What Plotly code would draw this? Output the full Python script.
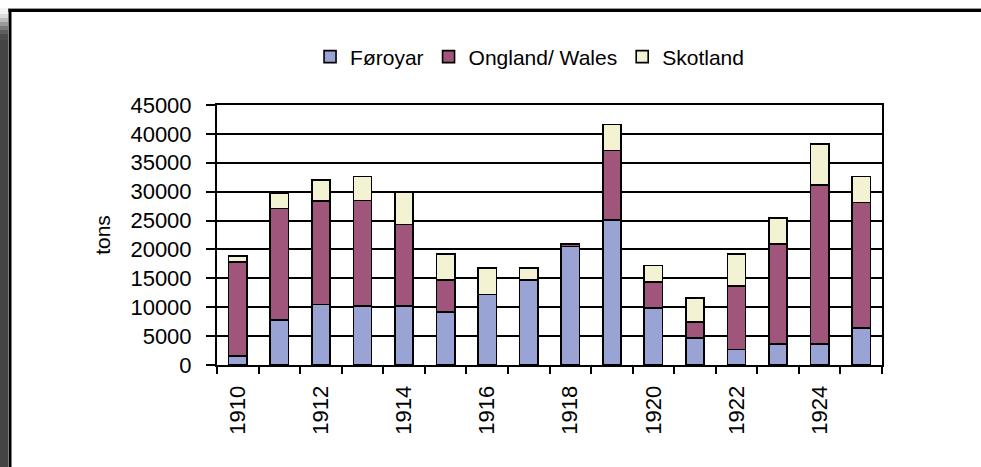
import plotly.graph_objects as go

years = list(range(1910, 1926))
foroyar = [1600, 7800, 10500, 10200, 10200, 9200, 12200, 14700, 20500, 25100, 9900, 4700, 2650, 3600, 3600, 6450]
ongland = [16200, 19300, 17900, 18300, 14100, 5500, 0, 0, 400, 12000, 4500, 2700, 11000, 17300, 27600, 21700]
skotland = [1100, 2700, 3600, 4100, 5550, 4500, 4600, 2100, 0, 4550, 2800, 4200, 5600, 4550, 7000, 4500]
label_years = [1910, 1912, 1914, 1916, 1918, 1920, 1922, 1924]
series_names = ["Føroyar", "Ongland/ Wales", "Skotland"]
colors = ["#9aa4d4", "#a0567a", "#f3f3d3"]

W, H = 981, 467
L, R, T, B = 217, 99, 105, 102
PW, PH = W - L - R, H - T - B

def px(x):
    return (x - L) / PW

def py(y):
    return (H - B - y) / PH

fig = go.Figure()
for name, vals, col in zip(series_names, [foroyar, ongland, skotland], colors):
    fig.add_trace(go.Bar(
        x=years, y=vals, name=name,
        marker=dict(color=col, line=dict(color="black", width=1.6)),
    ))

shapes = []
grads = [(8, 14, "#f4f4f4"), (14, 18, "#dcdcdc"), (18, 22, "#bdbdbd"), (22, 26, "#9a9a9a"),
         (26, 30, "#7a7a7a"), (30, 34, "#5e5e5e"), (34, 40, "#4c4c4c"), (40, 467, "#444444")]
for y0, y1, c in grads:
    shapes.append(dict(type="rect", xref="paper", yref="paper",
                       x0=px(0), x1=px(8), y0=py(y1), y1=py(y0),
                       fillcolor=c, line=dict(width=0), layer="below"))
# frame top (grey highlight + black border) drawn as thin filled rects
shapes.append(dict(type="rect", xref="paper", yref="paper",
                   x0=px(8), x1=px(990), y0=py(9), y1=py(8),
                   fillcolor="#9a9a9a", line=dict(width=0), layer="below"))
shapes.append(dict(type="rect", xref="paper", yref="paper",
                   x0=px(8.5), x1=px(990), y0=py(12), y1=py(9),
                   fillcolor="black", line=dict(width=0), layer="below"))
shapes.append(dict(type="rect", xref="paper", yref="paper",
                   x0=px(8.5), x1=px(11.5), y0=py(470), y1=py(9),
                   fillcolor="black", line=dict(width=0), layer="below"))

fig.update_layout(
    width=W, height=H,
    barmode="stack", bargap=0.56,
    paper_bgcolor="white", plot_bgcolor="white",
    margin=dict(l=L, r=R, t=T, b=B, autoexpand=False),
    font=dict(family="Liberation Sans, Arial, sans-serif", size=22, color="black"),
    showlegend=True,
    legend=dict(orientation="h", x=0.47, xanchor="center", y=py(57), yanchor="middle",
                font=dict(size=21), traceorder="normal", bgcolor="rgba(0,0,0,0)",
                itemwidth=30),
    shapes=shapes,
    xaxis=dict(
        range=[1909.5, 1925.5],
        tickmode="array", tickvals=label_years, ticktext=[str(y) for y in label_years],
        tickangle=-90, ticks="", showgrid=False, zeroline=False,
        showline=True, linecolor="black", linewidth=2, mirror=True,
        tickfont=dict(size=22), ticklabelstandoff=10,
        minor=dict(tickmode="array", tickvals=[y - 0.5 for y in years] + [years[-1] + 0.5],
                   ticks="outside", ticklen=7, tickwidth=2, tickcolor="black", showgrid=False),
    ),
    yaxis=dict(
        range=[0, 45000], tickmode="linear", tick0=0, dtick=5000, tickformat="d",
        ticks="outside", ticklen=9, tickwidth=2, tickcolor="black",
        showgrid=True, gridcolor="black", gridwidth=2, zeroline=False,
        showline=True, linecolor="black", linewidth=2, mirror=True,
        ticklabelstandoff=10,
        title=dict(text="tons", font=dict(size=21), standoff=14),
        tickfont=dict(size=22),
    ),
)

fig.write_html(
    "out.html", config={"displayModeBar": False},
    post_script=("document.body.style.margin='0';document.body.style.overflow='hidden';"
                 "document.documentElement.style.overflow='hidden';"),
)
